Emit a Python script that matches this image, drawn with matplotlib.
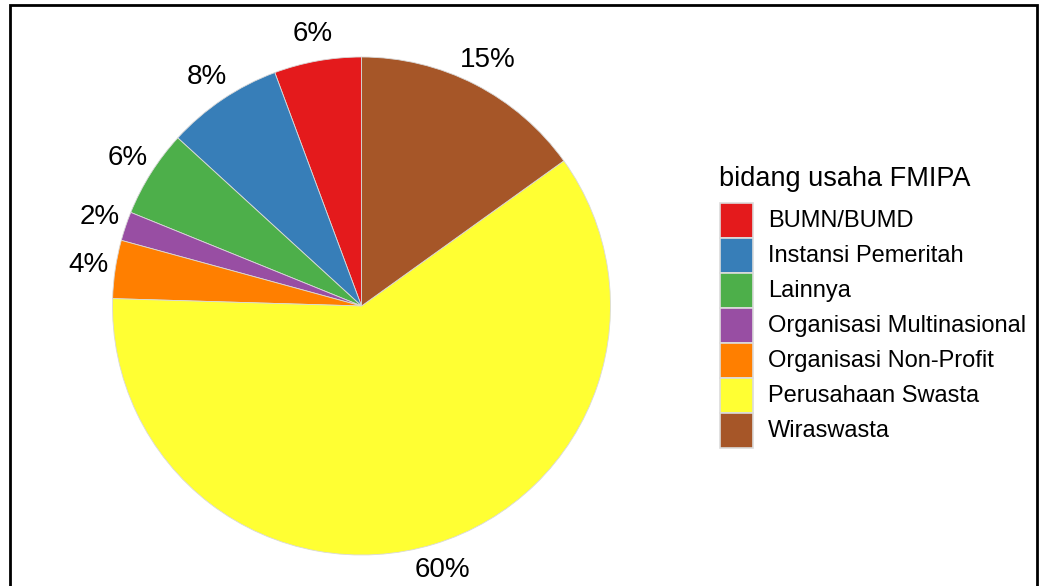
import numpy as np
import matplotlib
matplotlib.use("Agg")
import matplotlib.pyplot as plt
from matplotlib.patches import Rectangle

plt.rcParams['font.family'] = ['Liberation Sans', 'DejaVu Sans']

# data: respondent counts per bidang usaha (ggplot factor order)
categories = ['BUMN/BUMD', 'Instansi Pemeritah', 'Lainnya', 'Organisasi Multinasional',
              'Organisasi Non-Profit', 'Perusahaan Swasta', 'Wiraswasta']
counts = [3, 4, 3, 1, 2, 32, 8]
colors = ['#E41A1C', '#377EB8', '#4DAF4A', '#984EA3', '#FF7F00', '#FFFF33', '#A65628']

total = sum(counts)
pct_labels = [f"{round(100 * c / total)}%" for c in counts]

W, H = 1039, 586
fig = plt.figure(figsize=(W / 100, H / 100), dpi=100)
ax = fig.add_axes([0, 0, 1, 1])

cx, cy, r = 361.5, H - 306, 249
wedges, _ = ax.pie(counts, colors=colors, startangle=90, counterclock=True,
                   center=(cx, cy), radius=r, frame=True,
                   wedgeprops=dict(edgecolor='#d9d9d9', linewidth=0.6))
ax.set_xlim(0, W)
ax.set_ylim(0, H)
ax.set_aspect('equal')
ax.axis('off')

for w, lab in zip(wedges, pct_labels):
    ang = np.deg2rad((w.theta1 + w.theta2) / 2)
    ax.text(cx + 1.11 * r * np.cos(ang), cy + 1.11 * r * np.sin(ang), lab,
            ha='center', va='center', fontsize=20)

# legend, drawn like ggplot's guide
ax.text(719, H - 186, 'bidang usaha FMIPA', fontsize=19.5, ha='left', va='baseline')
key_top, key_h, key_w = 203.3, 35.0, 33.3
for i, (cat, col) in enumerate(zip(categories, colors)):
    y0 = H - (key_top + (i + 1) * key_h)
    ax.add_patch(Rectangle((720, y0), key_w, key_h, facecolor=col,
                           edgecolor='#dcdcdc', linewidth=1.2))
    ax.text(768, y0 + key_h / 2, cat, fontsize=17, ha='left', va='center')

# document frame around the figure
ax.plot([9.5, 9.5, 1037, 1037], [0, H - 4.7, H - 4.7, 0], color='black', lw=2,
        clip_on=False, solid_joinstyle='miter')

fig.savefig('out.png', dpi=100)
